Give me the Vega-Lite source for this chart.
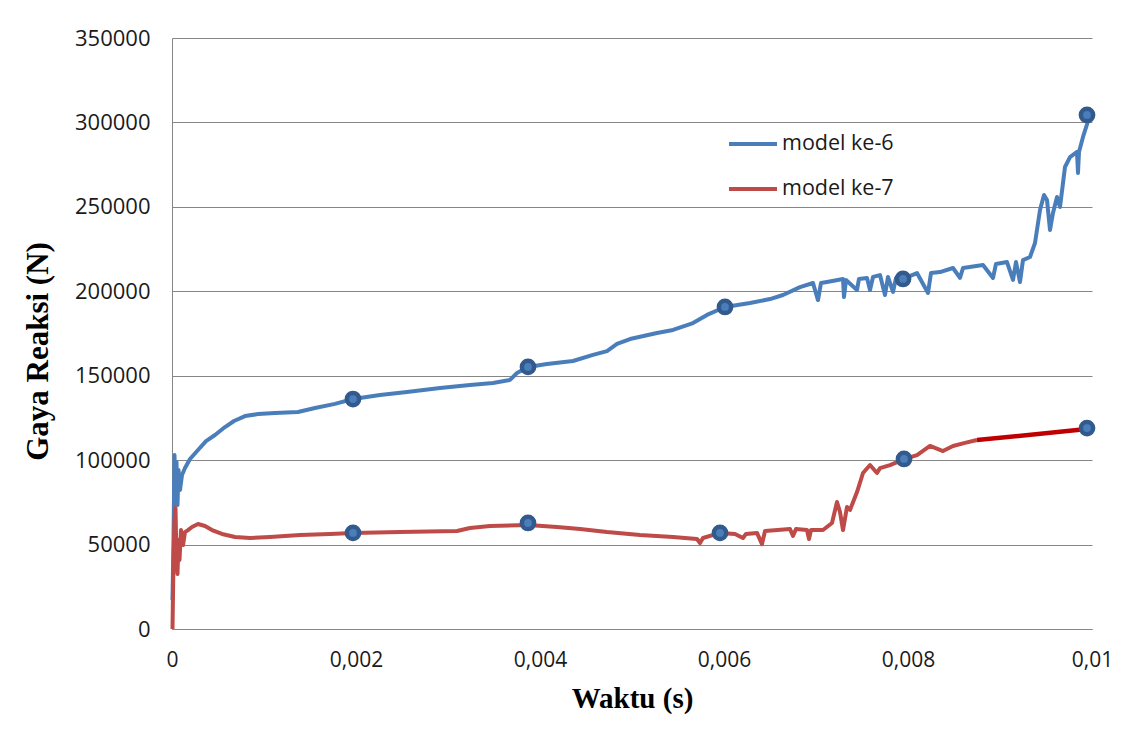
{
  "$schema": "https://vega.github.io/schema/vega-lite/v6.json",
  "width": 920,
  "height": 591,
  "autosize": {"type": "none"},
  "padding": {"left": 172, "top": 38, "right": 34, "bottom": 109},
  "background": "white",
  "config": {
    "locale": {"number": {"decimal": ",", "thousands": ".", "grouping": [3], "currency": ["", ""]}},
    "view": {"stroke": null},
    "axis": {"domainColor": "#868686", "gridColor": "#868686", "gridWidth": 1, "ticks": false, "labelFont": "Open Sans", "labelFontSize": 22, "labelColor": "#1a1a1a", "titleFont": "Liberation Serif", "titleFontWeight": "bold", "titleColor": "#000000"}
  },
  "datasets": {
    "lines": [
      {"t": 0.0000054, "F": 17200, "model": "model ke-6"},
      {"t": 0.0000163, "F": 52700, "model": "model ke-6"},
      {"t": 0.0000272, "F": 103000, "model": "model ke-6"},
      {"t": 0.000038, "F": 76400, "model": "model ke-6"},
      {"t": 0.0000489, "F": 98900, "model": "model ke-6"},
      {"t": 0.0000598, "F": 73400, "model": "model ke-6"},
      {"t": 0.0000707, "F": 94200, "model": "model ke-6"},
      {"t": 0.000087, "F": 82300, "model": "model ke-6"},
      {"t": 0.0001087, "F": 91200, "model": "model ke-6"},
      {"t": 0.0001413, "F": 95300, "model": "model ke-6"},
      {"t": 0.0001957, "F": 100700, "model": "model ke-6"},
      {"t": 0.0002826, "F": 106000, "model": "model ke-6"},
      {"t": 0.0003696, "F": 111300, "model": "model ke-6"},
      {"t": 0.0004674, "F": 114900, "model": "model ke-6"},
      {"t": 0.0005761, "F": 119600, "model": "model ke-6"},
      {"t": 0.0006739, "F": 123200, "model": "model ke-6"},
      {"t": 0.0007935, "F": 126100, "model": "model ke-6"},
      {"t": 0.0009348, "F": 127300, "model": "model ke-6"},
      {"t": 0.0011196, "F": 127900, "model": "model ke-6"},
      {"t": 0.0013696, "F": 128500, "model": "model ke-6"},
      {"t": 0.0015543, "F": 130900, "model": "model ke-6"},
      {"t": 0.0017717, "F": 133300, "model": "model ke-6"},
      {"t": 0.0019674, "F": 136200, "model": "model ke-6"},
      {"t": 0.0022609, "F": 138600, "model": "model ke-6"},
      {"t": 0.0025543, "F": 140400, "model": "model ke-6"},
      {"t": 0.002913, "F": 142700, "model": "model ke-6"},
      {"t": 0.0032391, "F": 144500, "model": "model ke-6"},
      {"t": 0.0034891, "F": 145700, "model": "model ke-6"},
      {"t": 0.0036739, "F": 147500, "model": "model ke-6"},
      {"t": 0.00375, "F": 151600, "model": "model ke-6"},
      {"t": 0.0038696, "F": 155200, "model": "model ke-6"},
      {"t": 0.0040761, "F": 156900, "model": "model ke-6"},
      {"t": 0.0043587, "F": 158700, "model": "model ke-6"},
      {"t": 0.0045761, "F": 162300, "model": "model ke-6"},
      {"t": 0.0047283, "F": 164600, "model": "model ke-6"},
      {"t": 0.004837, "F": 168800, "model": "model ke-6"},
      {"t": 0.0049783, "F": 171700, "model": "model ke-6"},
      {"t": 0.0052717, "F": 175300, "model": "model ke-6"},
      {"t": 0.0054457, "F": 177100, "model": "model ke-6"},
      {"t": 0.005663, "F": 181200, "model": "model ke-6"},
      {"t": 0.0058152, "F": 186000, "model": "model ke-6"},
      {"t": 0.0060109, "F": 190700, "model": "model ke-6"},
      {"t": 0.0062826, "F": 193100, "model": "model ke-6"},
      {"t": 0.0065, "F": 195400, "model": "model ke-6"},
      {"t": 0.0066413, "F": 197800, "model": "model ke-6"},
      {"t": 0.0068261, "F": 202500, "model": "model ke-6"},
      {"t": 0.0069674, "F": 204900, "model": "model ke-6"},
      {"t": 0.0070217, "F": 194800, "model": "model ke-6"},
      {"t": 0.0070543, "F": 204900, "model": "model ke-6"},
      {"t": 0.0071196, "F": 205500, "model": "model ke-6"},
      {"t": 0.0072935, "F": 207300, "model": "model ke-6"},
      {"t": 0.0073043, "F": 196600, "model": "model ke-6"},
      {"t": 0.0073261, "F": 206700, "model": "model ke-6"},
      {"t": 0.0074457, "F": 200800, "model": "model ke-6"},
      {"t": 0.0074674, "F": 207300, "model": "model ke-6"},
      {"t": 0.0075543, "F": 207900, "model": "model ke-6"},
      {"t": 0.007587, "F": 200800, "model": "model ke-6"},
      {"t": 0.0076196, "F": 208500, "model": "model ke-6"},
      {"t": 0.0076957, "F": 209600, "model": "model ke-6"},
      {"t": 0.00775, "F": 197800, "model": "model ke-6"},
      {"t": 0.0077826, "F": 208500, "model": "model ke-6"},
      {"t": 0.007837, "F": 199600, "model": "model ke-6"},
      {"t": 0.0078696, "F": 207900, "model": "model ke-6"},
      {"t": 0.0079457, "F": 207300, "model": "model ke-6"},
      {"t": 0.0080978, "F": 210800, "model": "model ke-6"},
      {"t": 0.0082174, "F": 199000, "model": "model ke-6"},
      {"t": 0.00825, "F": 210800, "model": "model ke-6"},
      {"t": 0.0083478, "F": 211400, "model": "model ke-6"},
      {"t": 0.0084891, "F": 213800, "model": "model ke-6"},
      {"t": 0.0085652, "F": 207900, "model": "model ke-6"},
      {"t": 0.0085978, "F": 213800, "model": "model ke-6"},
      {"t": 0.0088152, "F": 215600, "model": "model ke-6"},
      {"t": 0.0089239, "F": 207900, "model": "model ke-6"},
      {"t": 0.0089565, "F": 216200, "model": "model ke-6"},
      {"t": 0.0090761, "F": 217300, "model": "model ke-6"},
      {"t": 0.0091413, "F": 206700, "model": "model ke-6"},
      {"t": 0.0091739, "F": 217300, "model": "model ke-6"},
      {"t": 0.0092174, "F": 205500, "model": "model ke-6"},
      {"t": 0.00925, "F": 218500, "model": "model ke-6"},
      {"t": 0.0093261, "F": 220300, "model": "model ke-6"},
      {"t": 0.0093804, "F": 228600, "model": "model ke-6"},
      {"t": 0.0094348, "F": 248100, "model": "model ke-6"},
      {"t": 0.0094783, "F": 257000, "model": "model ke-6"},
      {"t": 0.0095109, "F": 254100, "model": "model ke-6"},
      {"t": 0.0095435, "F": 236300, "model": "model ke-6"},
      {"t": 0.0095761, "F": 246400, "model": "model ke-6"},
      {"t": 0.0096196, "F": 255800, "model": "model ke-6"},
      {"t": 0.0096522, "F": 249900, "model": "model ke-6"},
      {"t": 0.0097065, "F": 273600, "model": "model ke-6"},
      {"t": 0.0097609, "F": 279500, "model": "model ke-6"},
      {"t": 0.009837, "F": 282500, "model": "model ke-6"},
      {"t": 0.0098478, "F": 270100, "model": "model ke-6"},
      {"t": 0.0098587, "F": 282500, "model": "model ke-6"},
      {"t": 0.0099022, "F": 291400, "model": "model ke-6"},
      {"t": 0.0099783, "F": 304400, "model": "model ke-6"},
      {"t": 0.0000054, "F": 0, "model": "model ke-7"},
      {"t": 0.0000163, "F": 40900, "model": "model ke-7"},
      {"t": 0.0000272, "F": 64600, "model": "model ke-7"},
      {"t": 0.000038, "F": 71700, "model": "model ke-7"},
      {"t": 0.0000489, "F": 40900, "model": "model ke-7"},
      {"t": 0.0000598, "F": 32600, "model": "model ke-7"},
      {"t": 0.0000707, "F": 52700, "model": "model ke-7"},
      {"t": 0.0000815, "F": 40900, "model": "model ke-7"},
      {"t": 0.0000978, "F": 58600, "model": "model ke-7"},
      {"t": 0.0001196, "F": 49700, "model": "model ke-7"},
      {"t": 0.0001413, "F": 57400, "model": "model ke-7"},
      {"t": 0.0001739, "F": 58600, "model": "model ke-7"},
      {"t": 0.0002174, "F": 60400, "model": "model ke-7"},
      {"t": 0.0002826, "F": 62200, "model": "model ke-7"},
      {"t": 0.0003587, "F": 61000, "model": "model ke-7"},
      {"t": 0.0004348, "F": 58600, "model": "model ke-7"},
      {"t": 0.0005435, "F": 56300, "model": "model ke-7"},
      {"t": 0.0006848, "F": 54500, "model": "model ke-7"},
      {"t": 0.0008478, "F": 53900, "model": "model ke-7"},
      {"t": 0.0010652, "F": 54500, "model": "model ke-7"},
      {"t": 0.0013913, "F": 55700, "model": "model ke-7"},
      {"t": 0.0017174, "F": 56300, "model": "model ke-7"},
      {"t": 0.0019674, "F": 56900, "model": "model ke-7"},
      {"t": 0.0024783, "F": 57400, "model": "model ke-7"},
      {"t": 0.0030978, "F": 58000, "model": "model ke-7"},
      {"t": 0.0032391, "F": 59800, "model": "model ke-7"},
      {"t": 0.0034565, "F": 61000, "model": "model ke-7"},
      {"t": 0.0038696, "F": 61600, "model": "model ke-7"},
      {"t": 0.0041848, "F": 60400, "model": "model ke-7"},
      {"t": 0.0044348, "F": 59200, "model": "model ke-7"},
      {"t": 0.0047283, "F": 57400, "model": "model ke-7"},
      {"t": 0.005087, "F": 55700, "model": "model ke-7"},
      {"t": 0.0054457, "F": 54500, "model": "model ke-7"},
      {"t": 0.0057065, "F": 53300, "model": "model ke-7"},
      {"t": 0.0057391, "F": 50900, "model": "model ke-7"},
      {"t": 0.0057717, "F": 53900, "model": "model ke-7"},
      {"t": 0.0059565, "F": 56900, "model": "model ke-7"},
      {"t": 0.0061196, "F": 56300, "model": "model ke-7"},
      {"t": 0.0062065, "F": 53900, "model": "model ke-7"},
      {"t": 0.0062391, "F": 56300, "model": "model ke-7"},
      {"t": 0.0063587, "F": 56900, "model": "model ke-7"},
      {"t": 0.006413, "F": 50300, "model": "model ke-7"},
      {"t": 0.0064457, "F": 58000, "model": "model ke-7"},
      {"t": 0.0067174, "F": 59200, "model": "model ke-7"},
      {"t": 0.00675, "F": 55100, "model": "model ke-7"},
      {"t": 0.0067826, "F": 59200, "model": "model ke-7"},
      {"t": 0.0069022, "F": 58600, "model": "model ke-7"},
      {"t": 0.0069239, "F": 53300, "model": "model ke-7"},
      {"t": 0.0069457, "F": 58600, "model": "model ke-7"},
      {"t": 0.0070761, "F": 58600, "model": "model ke-7"},
      {"t": 0.0071739, "F": 62800, "model": "model ke-7"},
      {"t": 0.0072283, "F": 75200, "model": "model ke-7"},
      {"t": 0.0072609, "F": 69300, "model": "model ke-7"},
      {"t": 0.0072935, "F": 58600, "model": "model ke-7"},
      {"t": 0.007337, "F": 72300, "model": "model ke-7"},
      {"t": 0.0073696, "F": 70500, "model": "model ke-7"},
      {"t": 0.0074457, "F": 81100, "model": "model ke-7"},
      {"t": 0.0075109, "F": 92400, "model": "model ke-7"},
      {"t": 0.007587, "F": 97100, "model": "model ke-7"},
      {"t": 0.007663, "F": 92400, "model": "model ke-7"},
      {"t": 0.0076957, "F": 95300, "model": "model ke-7"},
      {"t": 0.0078043, "F": 97100, "model": "model ke-7"},
      {"t": 0.0079674, "F": 100700, "model": "model ke-7"},
      {"t": 0.0080978, "F": 103000, "model": "model ke-7"},
      {"t": 0.0082391, "F": 108400, "model": "model ke-7"},
      {"t": 0.0083804, "F": 105400, "model": "model ke-7"},
      {"t": 0.0084891, "F": 108400, "model": "model ke-7"},
      {"t": 0.0086196, "F": 110200, "model": "model ke-7"},
      {"t": 0.00875, "F": 111900, "model": "model ke-7"}
    ],
    "segment": [
      {"t": 0.00875, "F": 111900},
      {"t": 0.0099457, "F": 118400}
    ],
    "markers": [
      {"t": 0.0019674, "F": 136200},
      {"t": 0.0038696, "F": 155200},
      {"t": 0.0060109, "F": 190700},
      {"t": 0.0079457, "F": 207300},
      {"t": 0.0099457, "F": 304400},
      {"t": 0.0019674, "F": 56900},
      {"t": 0.0038696, "F": 62800},
      {"t": 0.0059565, "F": 56900},
      {"t": 0.0079565, "F": 100700},
      {"t": 0.0099457, "F": 119000}
    ]
  },
  "encoding": {
    "x": {
      "field": "t", "type": "quantitative",
      "scale": {"domain": [0, 0.01], "nice": false},
      "axis": {"values": [0, 0.002, 0.004, 0.006, 0.008, 0.01], "format": "~r", "grid": false, "labelFlush": false, "labelFontSize": 21, "labelPadding": 20, "title": "Waktu (s)", "titleFontSize": 29, "titlePadding": 14}
    },
    "y": {
      "field": "F", "type": "quantitative",
      "scale": {"domain": [0, 350000], "nice": false},
      "axis": {"values": [0, 50000, 100000, 150000, 200000, 250000, 300000, 350000], "format": "d", "grid": true, "labelPadding": 22, "title": "Gaya Reaksi (N)", "titleFontSize": 31, "titlePadding": 20, "titleY": 313}
    }
  },
  "layer": [
    {
      "data": {"name": "lines"},
      "mark": {"type": "line", "strokeWidth": 4, "strokeJoin": "round", "interpolate": "linear"},
      "encoding": {
        "color": {
          "field": "model", "type": "nominal",
          "scale": {"domain": ["model ke-6", "model ke-7"], "range": ["#4a7ebb", "#be4b48"]},
          "legend": {"title": null, "orient": "none", "legendX": 555, "legendY": 80, "padding": 0, "symbolType": "stroke", "symbolSize": 2304, "symbolStrokeWidth": 4, "labelFont": "Open Sans", "labelFontSize": 21.5, "labelColor": "#1a1a1a", "labelOffset": 3, "rowPadding": 8}
        }
      }
    },
    {
      "data": {"name": "segment"},
      "mark": {"type": "line", "strokeWidth": 4.5, "color": "#c00000"}
    },
    {
      "data": {"name": "markers"},
      "mark": {"type": "point", "shape": "circle", "filled": true, "size": 150, "fill": "#4a7ebb", "stroke": "#335a8c", "strokeWidth": 4.5, "opacity": 1}
    }
  ]
}
